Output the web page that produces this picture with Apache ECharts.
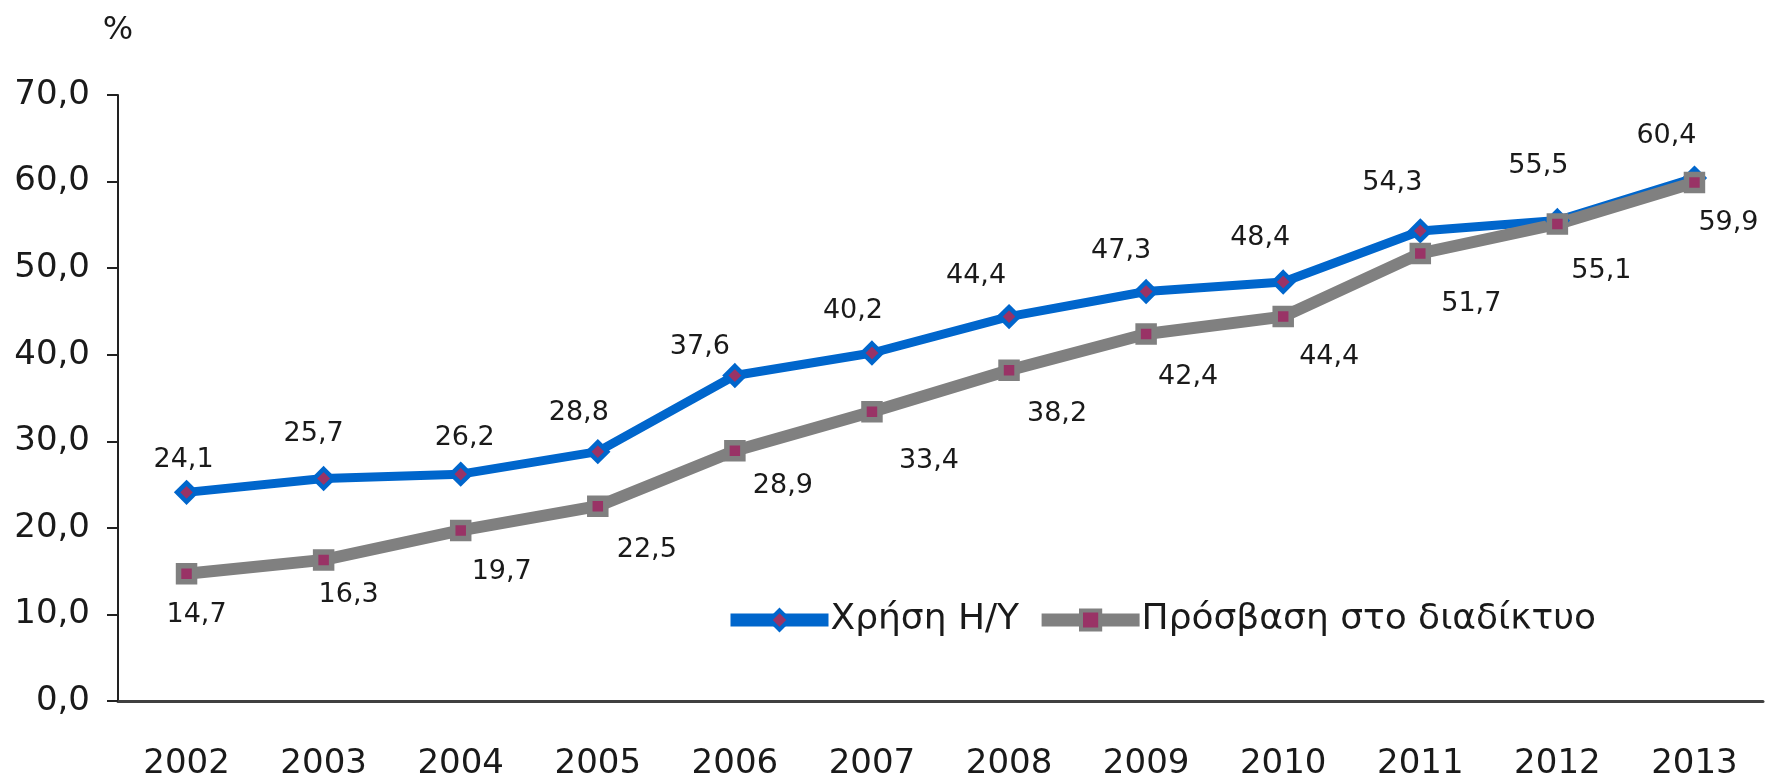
<!DOCTYPE html>
<html>
<head>
<meta charset="utf-8">
<script src="https://cdn.jsdelivr.net/npm/echarts@6/dist/echarts.min.js"></script>
<style>
  html, body { margin: 0; padding: 0; background: #fff; }
  #chart { width: 1766px; height: 781px; }
</style>
</head>
<body>
<div id="chart"></div>
<script>
var years = ['2002', '2003', '2004', '2005', '2006', '2007', '2008', '2009', '2010', '2011', '2012', '2013'];
var pcUse = [24.1, 25.7, 26.2, 28.8, 37.6, 40.2, 44.4, 47.3, 48.4, 54.3, 55.5, 60.4];
var netAccess = [14.7, 16.3, 19.7, 22.5, 28.9, 33.4, 38.2, 42.4, 44.4, 51.7, 55.1, 59.9];
var seriesNames = ['Χρήση Η/Υ', 'Πρόσβαση στο διαδίκτυο'];

// where each value label sits relative to its point
var pcLabelShift = [[-3, -32], [-10, -45], [4, -36], [-19, -39], [-35, -29], [-19, -42],
    [-33, -41], [-25, -41], [-23, -44], [-28, -48], [-19, -55], [-28, -42]];
var netLabelShift = [[10, 41], [25, 35], [41, 42], [49, 44], [48, 35], [57, 49],
    [48, 44], [42, 43], [46, 40], [51, 51], [44, 47], [34, 41]];

var font = '"DejaVu Sans", sans-serif';

function comma(v) {
    return v.toFixed(1).replace('.', ',');
}

function withLabels(values, shifts) {
    return values.map(function (v, i) {
        return { value: v, label: { offset: shifts[i] } };
    });
}

var labelStyle = {
    show: true,
    position: 'inside',
    fontFamily: font,
    fontSize: 27,
    color: '#1a1a1a',
    formatter: function (p) { return comma(p.value); }
};

var chart = echarts.init(document.getElementById('chart'));

chart.setOption({
    animation: false,
    grid: { left: 118, right: 3, top: 95, bottom: 77, containLabel: false },
    legend: {
        left: 719,
        top: 597,
        itemWidth: 98,
        itemHeight: 24,
        itemGap: 16,
        lineStyle: { width: 13 },
        itemStyle: { borderWidth: 4 },
        textStyle: { fontFamily: font, fontSize: 36, color: '#1a1a1a', padding: [0, 0, 0, -3] },
        data: seriesNames
    },
    xAxis: {
        type: 'category',
        data: years,
        axisLine: { lineStyle: { color: '#404040', width: 3 } },
        axisTick: { length: 13, lineStyle: { color: '#222', width: 2 } },
        axisLabel: { margin: 46, fontFamily: font, fontSize: 34, color: '#1a1a1a' }
    },
    yAxis: {
        type: 'value',
        min: 0,
        max: 70,
        interval: 10,
        name: '%',
        nameLocation: 'end',
        nameGap: 64,
        nameTextStyle: { fontFamily: font, fontSize: 32, color: '#1a1a1a', align: 'center', verticalAlign: 'middle' },
        splitLine: { show: false },
        axisLine: { show: true, lineStyle: { color: '#222', width: 2 } },
        axisTick: { show: true, length: 11, lineStyle: { color: '#222', width: 2 } },
        axisLabel: {
            margin: 28,
            fontFamily: font,
            fontSize: 34,
            color: '#1a1a1a',
            formatter: function (v) { return comma(v); }
        }
    },
    series: [
        {
            name: seriesNames[0],
            type: 'line',
            data: withLabels(pcUse, pcLabelShift),
            symbol: 'diamond',
            symbolSize: 19,
            lineStyle: { color: '#0066CC', width: 9 },
            itemStyle: { color: '#993366', borderColor: '#0066CC', borderWidth: 4.5 },
            label: labelStyle
        },
        {
            name: seriesNames[1],
            type: 'line',
            data: withLabels(netAccess, netLabelShift),
            symbol: 'rect',
            symbolSize: 16,
            lineStyle: { color: '#808080', width: 12 },
            itemStyle: { color: '#993366', borderColor: '#808080', borderWidth: 5.5 },
            label: labelStyle
        }
    ]
});
</script>
</body>
</html>
